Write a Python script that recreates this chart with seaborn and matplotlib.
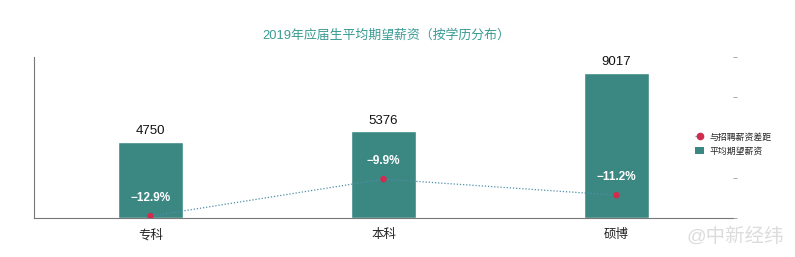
import matplotlib
matplotlib.use("Agg")
import matplotlib.pyplot as plt
import seaborn as sns
import pandas as pd
from matplotlib.lines import Line2D
from matplotlib.patches import Patch

categories = ["专科", "本科", "硕博"]
avg_salary = [4750, 5376, 9017]
gap_pct = [-12.9, -9.9, -11.2]
title = "2019年应届生平均期望薪资（按学历分布）"
legend_labels = ["与招聘薪资差距", "平均期望薪资"]

sns.set_theme(style="white")
plt.rcParams["font.family"] = ["Liberation Sans", "Noto Sans CJK SC", "DejaVu Sans"]

bar_color = "#3b8883"
dot_color = "#d12c4e"
line_color = "#4f8fa8"
title_color = "#3a9b93"
axis_color = "#777777"

df = pd.DataFrame({"cat": categories, "salary": avg_salary, "gap": gap_pct})

fig = plt.figure(figsize=(7.95, 2.57), dpi=100)
ax = fig.add_axes([34/795, 1-218/257, (733-34)/795, (218-57)/257])

sns.barplot(data=df, x="cat", y="salary", color=bar_color, width=0.28,
            saturation=1, ax=ax)
ax.set_xlim(-0.5, 2.5)
ax.set_ylim(0, 10000)
ax.set_xlabel("")
ax.set_ylabel("")
ax.set_yticks([])
for s in ["top", "right"]:
    ax.spines[s].set_visible(False)
ax.spines["left"].set_color(axis_color)
ax.spines["left"].set_linewidth(0.8)
ax.spines["bottom"].set_color(axis_color)
ax.spines["bottom"].set_linewidth(0.8)
ax.tick_params(axis="x", length=0, labelsize=9, pad=8, labelcolor="#222222")
ax.set_xticks([0.5, 1.5, 2.5], minor=True)
ax.tick_params(axis="x", which="minor", length=4, direction="inout",
               color=axis_color, width=0.6)

for i, v in enumerate(avg_salary):
    ax.text(i, v + 300, f"{v}", ha="center", va="bottom", fontsize=9.5,
            color="#111111")

ax2 = ax.twinx()
sns.lineplot(data=df, x="cat", y="gap", ax=ax2, color=line_color,
             linestyle=(0, (1, 1.5)), linewidth=0.9, sort=False)
sns.scatterplot(data=df, x="cat", y="gap", ax=ax2, color=dot_color, s=22,
                edgecolor="none", zorder=5)
ax2.set_ylim(-13.05, 0)
ax2.set_xlim(-0.5, 2.5)
ax2.set_xlabel("")
ax2.set_ylabel("")
ax2.set_yticks([-13.05, -9.79, -6.53, -3.26, 0])
ax2.set_yticklabels([])
ax2.tick_params(axis="y", length=3, color="#999999", width=0.6, right=True)
for s in ["top", "right", "left", "bottom"]:
    ax2.spines[s].set_visible(False)

for i, g in enumerate(gap_pct):
    ax2.text(i, g + 0.95, f"−{abs(g):.1f}%", ha="center", va="bottom",
             fontsize=8.5, fontweight="bold", color="white", zorder=6)

fig.text(386/795, 1-35/257, title, ha="center", va="center", fontsize=9.3,
         color=title_color)

handles = [Line2D([0], [0], color=line_color, linestyle=(0, (1, 1.5)),
                  linewidth=0.9, marker="o", markersize=4.5,
                  markerfacecolor=dot_color, markeredgecolor=dot_color),
           Patch(facecolor=bar_color, edgecolor="none")]
fig.legend(handles, legend_labels, loc="center left",
           bbox_to_anchor=(691/795, 1-144/257), frameon=False, fontsize=6.4,
           handlelength=1.0, handleheight=0.9, handletextpad=0.6,
           labelspacing=0.55, borderpad=0)

fig.text(686/795, 1-237/257, "@中新经纬", ha="left", va="center",
         fontsize=14, color="#dcdcdc")

fig.savefig("out.png", dpi=100)
